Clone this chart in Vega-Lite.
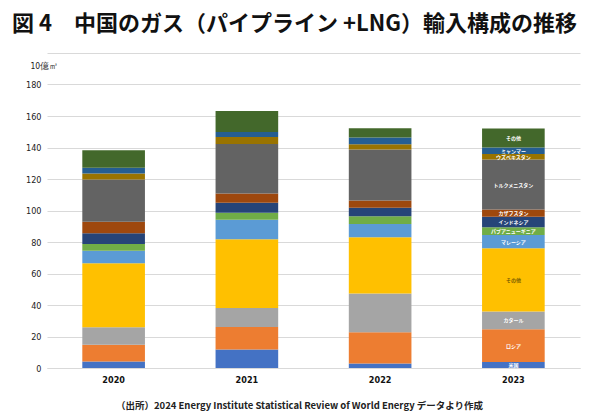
{
  "$schema": "https://vega.github.io/schema/vega-lite/v6.json",
  "width": 533,
  "height": 315,
  "autosize": {"type": "none"},
  "padding": {"left": 47, "top": 53, "right": 20, "bottom": 52},
  "background": "white",
  "title": {
    "text": "図 4　中国のガス（パイプライン +LNG）輸入構成の推移",
    "anchor": "start",
    "frame": "group",
    "dx": -35,
    "offset": 17,
    "font": "Noto Sans CJK JP",
    "fontSize": 22,
    "fontWeight": "bold",
    "color": "#111111"
  },
  "config": {
    "view": {"stroke": null},
    "font": "Noto Sans CJK JP"
  },
  "data": {
    "values": [
      {"year": "2020", "idx": 1, "source": "米国", "label": "米国", "value": 4.2},
      {"year": "2020", "idx": 2, "source": "ロシア", "label": "ロシア", "value": 10.5},
      {"year": "2020", "idx": 3, "source": "カタール", "label": "カタール", "value": 11.2},
      {"year": "2020", "idx": 4, "source": "その他LNG", "label": "その他", "value": 40.6},
      {"year": "2020", "idx": 5, "source": "マレーシア", "label": "マレーシア", "value": 8.0},
      {"year": "2020", "idx": 6, "source": "パプアニューギニア", "label": "パプアニューギニア", "value": 4.2},
      {"year": "2020", "idx": 7, "source": "インドネシア", "label": "インドネシア", "value": 6.8},
      {"year": "2020", "idx": 8, "source": "カザフスタン", "label": "カザフスタン", "value": 7.3},
      {"year": "2020", "idx": 9, "source": "トルクメニスタン", "label": "トルクメニスタン", "value": 26.9},
      {"year": "2020", "idx": 10, "source": "ウズベキスタン", "label": "ウズベキスタン", "value": 3.8},
      {"year": "2020", "idx": 11, "source": "ミャンマー", "label": "ミャンマー", "value": 3.7},
      {"year": "2020", "idx": 12, "source": "その他PL", "label": "その他", "value": 11.0},
      {"year": "2021", "idx": 1, "source": "米国", "label": "米国", "value": 11.7},
      {"year": "2021", "idx": 2, "source": "ロシア", "label": "ロシア", "value": 14.4},
      {"year": "2021", "idx": 3, "source": "カタール", "label": "カタール", "value": 12.0},
      {"year": "2021", "idx": 4, "source": "その他LNG", "label": "その他", "value": 43.7},
      {"year": "2021", "idx": 5, "source": "マレーシア", "label": "マレーシア", "value": 12.3},
      {"year": "2021", "idx": 6, "source": "パプアニューギニア", "label": "パプアニューギニア", "value": 4.4},
      {"year": "2021", "idx": 7, "source": "インドネシア", "label": "インドネシア", "value": 6.4},
      {"year": "2021", "idx": 8, "source": "カザフスタン", "label": "カザフスタン", "value": 5.9},
      {"year": "2021", "idx": 9, "source": "トルクメニスタン", "label": "トルクメニスタン", "value": 31.5},
      {"year": "2021", "idx": 10, "source": "ウズベキスタン", "label": "ウズベキスタン", "value": 4.3},
      {"year": "2021", "idx": 11, "source": "ミャンマー", "label": "ミャンマー", "value": 3.2},
      {"year": "2021", "idx": 12, "source": "その他PL", "label": "その他", "value": 13.3},
      {"year": "2022", "idx": 1, "source": "米国", "label": "米国", "value": 2.8},
      {"year": "2022", "idx": 2, "source": "ロシア", "label": "ロシア", "value": 19.9},
      {"year": "2022", "idx": 3, "source": "カタール", "label": "カタール", "value": 24.6},
      {"year": "2022", "idx": 4, "source": "その他LNG", "label": "その他", "value": 35.7},
      {"year": "2022", "idx": 5, "source": "マレーシア", "label": "マレーシア", "value": 8.5},
      {"year": "2022", "idx": 6, "source": "パプアニューギニア", "label": "パプアニューギニア", "value": 4.9},
      {"year": "2022", "idx": 7, "source": "インドネシア", "label": "インドネシア", "value": 5.3},
      {"year": "2022", "idx": 8, "source": "カザフスタン", "label": "カザフスタン", "value": 4.7},
      {"year": "2022", "idx": 9, "source": "トルクメニスタン", "label": "トルクメニスタン", "value": 32.4},
      {"year": "2022", "idx": 10, "source": "ウズベキスタン", "label": "ウズベキスタン", "value": 3.2},
      {"year": "2022", "idx": 11, "source": "ミャンマー", "label": "ミャンマー", "value": 4.3},
      {"year": "2022", "idx": 12, "source": "その他PL", "label": "その他", "value": 5.9},
      {"year": "2023", "idx": 1, "source": "米国", "label": "米国", "value": 3.8},
      {"year": "2023", "idx": 2, "source": "ロシア", "label": "ロシア", "value": 20.8},
      {"year": "2023", "idx": 3, "source": "カタール", "label": "カタール", "value": 11.2},
      {"year": "2023", "idx": 4, "source": "その他LNG", "label": "その他", "value": 40.2},
      {"year": "2023", "idx": 5, "source": "マレーシア", "label": "マレーシア", "value": 8.4},
      {"year": "2023", "idx": 6, "source": "パプアニューギニア", "label": "パプアニューギニア", "value": 4.9},
      {"year": "2023", "idx": 7, "source": "インドネシア", "label": "インドネシア", "value": 6.7},
      {"year": "2023", "idx": 8, "source": "カザフスタン", "label": "カザフスタン", "value": 4.6},
      {"year": "2023", "idx": 9, "source": "トルクメニスタン", "label": "トルクメニスタン", "value": 31.8},
      {"year": "2023", "idx": 10, "source": "ウズベキスタン", "label": "ウズベキスタン", "value": 3.4},
      {"year": "2023", "idx": 11, "source": "ミャンマー", "label": "ミャンマー", "value": 4.2},
      {"year": "2023", "idx": 12, "source": "その他PL", "label": "その他", "value": 12.0}
    ]
  },
  "encoding": {
    "x": {
      "field": "year",
      "type": "nominal",
      "scale": {"paddingInner": 0.53, "paddingOuter": 0.265},
      "axis": {
        "labelAngle": 0,
        "labelFont": "Liberation Sans Narrow, DejaVu Sans Condensed, sans-serif",
        "labelFontSize": 9,
        "labelFontWeight": "bold",
        "labelColor": "#111111",
        "labelPadding": 7,
        "ticks": false,
        "domain": true,
        "domainColor": "#D9D9D9",
        "title": "（出所）2024 Energy Institute Statistical Review of World Energy データより作成",
        "titleFont": "Noto Sans CJK JP",
        "titleFontSize": 9.5,
        "titleFontWeight": "bold",
        "titleColor": "#222222",
        "titleX": 252,
        "titleY": 37,
        "titleAlign": "center",
        "titleBaseline": "middle"
      }
    },
    "y": {
      "field": "value",
      "type": "quantitative",
      "stack": "zero",
      "scale": {"domain": [0, 200], "nice": false},
      "axis": {
        "values": [0, 20, 40, 60, 80, 100, 120, 140, 160, 180, 200],
        "labelExpr": "datum.value == 200 ? '' : datum.label",
        "labelFont": "Liberation Sans Narrow, DejaVu Sans Condensed, sans-serif",
        "labelFontSize": 9,
        "labelColor": "#222222",
        "labelPadding": 6,
        "ticks": false,
        "domain": false,
        "gridColor": "#D9D9D9",
        "gridWidth": 1,
        "title": "10億㎥",
        "titleFont": "Liberation Sans Narrow, DejaVu Sans Condensed, sans-serif",
        "titleFontSize": 8.5,
        "titleFontWeight": "normal",
        "titleColor": "#222222",
        "titleAngle": 0,
        "titleAlign": "left",
        "titleBaseline": "middle",
        "titleX": -17,
        "titleY": 12
      }
    },
    "order": {"field": "idx", "type": "quantitative"}
  },
  "layer": [
    {
      "mark": {"type": "bar"},
      "encoding": {
        "color": {
          "field": "source",
          "type": "nominal",
          "legend": null,
          "scale": {
            "domain": ["米国", "ロシア", "カタール", "その他LNG", "マレーシア", "パプアニューギニア", "インドネシア", "カザフスタン", "トルクメニスタン", "ウズベキスタン", "ミャンマー", "その他PL"],
            "range": ["#4472C4", "#ED7D31", "#A5A5A5", "#FFC000", "#5B9BD5", "#70AD47", "#264478", "#9E480E", "#636363", "#997300", "#255E91", "#43682B"]
          }
        }
      }
    },
    {
      "transform": [{"filter": "datum.year == '2023'"}],
      "mark": {"type": "text", "fontSize": 5, "fontWeight": "bold", "font": "Noto Sans CJK JP", "baseline": "middle", "align": "center"},
      "encoding": {
        "y": {"field": "value", "type": "quantitative", "stack": "zero", "bandPosition": 0.5},
        "text": {"field": "label"},
        "color": {
          "condition": {"test": "datum.idx == 4", "value": "#7F6000"},
          "value": "#FFFFFF"
        }
      }
    }
  ]
}
